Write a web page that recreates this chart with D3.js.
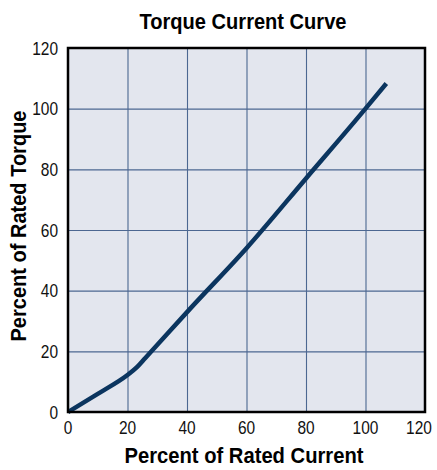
<!DOCTYPE html>
<html><head><meta charset="utf-8">
<script src="https://cdn.jsdelivr.net/npm/d3@7"></script>
<style>body{margin:0;background:#fff}svg{display:block}</style>
</head><body>
<svg id="chart" width="437" height="470"></svg>
<script>
const currentPct = [0, 10, 20, 23, 26, 41, 60, 80, 100, 107];
const torquePct  = [0, 6, 12.2, 14.6, 17.8, 34, 54, 77, 100, 108.3];
const xTicks = [0, 20, 40, 60, 80, 100, 120];
const yTicks = [0, 20, 40, 60, 80, 100, 120];
const title = "Torque Current Curve";
const xTitle = "Percent of Rated Current";
const yTitle = "Percent of Rated Torque";

const svg = d3.select("#chart");
const L = 68, R = 425, T = 48, B = 412;
const x = d3.scaleLinear().domain([0, 120]).range([L, R]);
const y = d3.scaleLinear().domain([0, 120]).range([B, T]);
const font = "'Liberation Sans',Arial,sans-serif";

svg.append("rect").attr("x", L).attr("y", T).attr("width", R - L).attr("height", B - T)
  .attr("fill", "#e3e6ee");

// grid
svg.append("g").attr("transform", `translate(0,${B})`)
  .call(d3.axisBottom(x).tickValues(xTicks.slice(1, -1)).tickSize(-(B - T)).tickFormat(""))
  .call(g => g.select(".domain").remove())
  .call(g => g.selectAll("line").attr("stroke", "#4c6791").attr("stroke-width", 1.1));
svg.append("g").attr("transform", `translate(${L},0)`)
  .call(d3.axisLeft(y).tickValues(yTicks.slice(1, -1)).tickSize(-(R - L)).tickFormat(""))
  .call(g => g.select(".domain").remove())
  .call(g => g.selectAll("line").attr("stroke", "#4c6791").attr("stroke-width", 1.1));

// curve
const pts = currentPct.map((c, i) => [c, torquePct[i]]);
svg.append("path").datum(pts)
  .attr("d", d3.line().x(d => x(d[0])).y(d => y(d[1])).curve(d3.curveMonotoneX))
  .attr("fill", "none").attr("stroke", "#0b355f").attr("stroke-width", 4.5)
  .attr("stroke-linecap", "butt");

// border
svg.append("rect").attr("x", L).attr("y", T).attr("width", R - L).attr("height", B - T)
  .attr("fill", "none").attr("stroke", "#000").attr("stroke-width", 2.5);

// tick labels
const charW = 8.6;
svg.append("g").selectAll("text").data(xTicks).join("text")
  .attr("x", d => Math.min(x(d), 419)).attr("y", 434).attr("text-anchor", "middle")
  .attr("font-family", font).attr("font-size", 18.5).attr("fill", "#111")
  .attr("textLength", d => String(d).length * charW).attr("lengthAdjust", "spacingAndGlyphs")
  .text(d => d);
svg.append("g").selectAll("text").data(yTicks).join("text")
  .attr("x", 58).attr("y", d => y(d) + 6.5).attr("text-anchor", "end")
  .attr("font-family", font).attr("font-size", 18.5).attr("fill", "#111")
  .attr("textLength", d => String(d).length * charW).attr("lengthAdjust", "spacingAndGlyphs")
  .text(d => d);

// titles
svg.append("text").attr("x", 243).attr("y", 29).attr("text-anchor", "middle")
  .attr("font-family", font).attr("font-weight", "bold").attr("font-size", 21.5)
  .attr("textLength", 207).attr("lengthAdjust", "spacingAndGlyphs").text(title);
svg.append("text").attr("x", 244).attr("y", 463).attr("text-anchor", "middle")
  .attr("font-family", font).attr("font-weight", "bold").attr("font-size", 22.5)
  .attr("textLength", 239).attr("lengthAdjust", "spacingAndGlyphs").text(xTitle);
svg.append("text").attr("transform", "translate(26,226) rotate(-90)").attr("text-anchor", "middle")
  .attr("font-family", font).attr("font-weight", "bold").attr("font-size", 22.5)
  .attr("textLength", 231).attr("lengthAdjust", "spacingAndGlyphs").text(yTitle);
</script>
</body></html>
